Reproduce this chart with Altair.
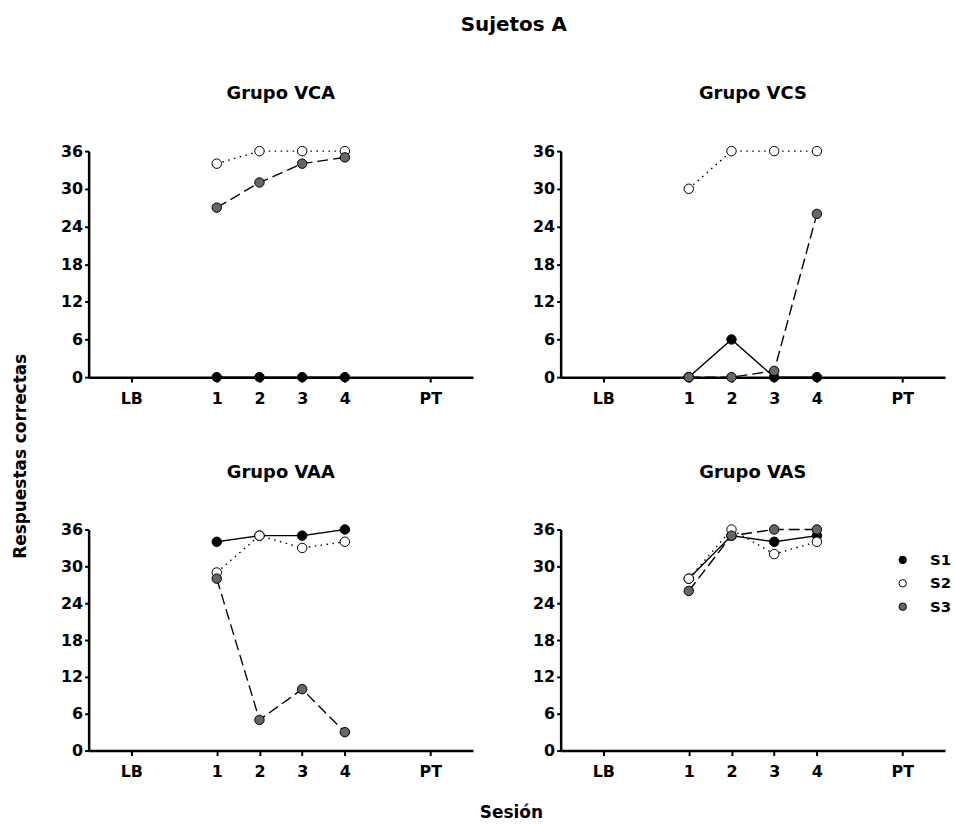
import altair as alt
import pandas as pd

sessions = [1, 2, 3, 4]
subjects = ["S1", "S2", "S3"]
tick_values = [-1, 1, 2, 3, 4, 6]
tick_labels = ["LB", "1", "2", "3", "4", "PT"]
y_ticks = [0, 6, 12, 18, 24, 30, 36]

vca_s1 = [0, 0, 0, 0]
vca_s2 = [34, 36, 36, 36]
vca_s3 = [27, 31, 34, 35]

vcs_s1 = [0, 6, 0, 0]
vcs_s2 = [30, 36, 36, 36]
vcs_s3 = [0, 0, 1, 26]

vaa_s1 = [34, 35, 35, 36]
vaa_s2 = [29, 35, 33, 34]
vaa_s3 = [28, 5, 10, 3]

vas_s1 = [28, 35, 34, 35]
vas_s2 = [28, 36, 32, 34]
vas_s3 = [26, 35, 36, 36]

FONT = "DejaVu Sans"

label_expr = "datum.label"
for v, l in reversed(list(zip(tick_values, tick_labels))):
    label_expr = f"datum.value == {v} ? '{l}' : " + label_expr


def make_df(s1, s2, s3):
    rows = []
    for subj, vals in zip(subjects, [s1, s2, s3]):
        for s, v in zip(sessions, vals):
            rows.append({"session": s, "value": v, "subject": subj})
    return pd.DataFrame(rows)


def panel(name, s1, s2, s3, width, height, ytitle=None, xtitle=None, legend=False):
    df = make_df(s1, s2, s3)
    xaxis_kw = dict(values=tick_values, labelExpr=label_expr, title=None)
    if xtitle:
        xaxis_kw.update(title=xtitle[0], titleX=xtitle[1], titleY=xtitle[2],
                        titleBaseline="middle")
    yaxis_kw = dict(values=y_ticks, title=None)
    if ytitle:
        yaxis_kw.update(title=ytitle[0], titleX=ytitle[1], titleY=ytitle[2],
                        titleBaseline="middle")
    x = alt.X("session:Q", scale=alt.Scale(domain=[-2, 7], nice=False, zero=False),
              axis=alt.Axis(**xaxis_kw))
    y = alt.Y("value:Q", scale=alt.Scale(domain=[0, 36], nice=False),
              axis=alt.Axis(**yaxis_kw))
    lines = alt.Chart(df).mark_line(color="black", strokeWidth=1.4).encode(
        x=x, y=y, detail="subject:N",
        strokeDash=alt.StrokeDash("subject:N",
                                  scale=alt.Scale(domain=subjects,
                                                  range=[[1, 0], [1.5, 4.5], [11, 5]]),
                                  legend=None),
    )
    if legend:
        leg = alt.Legend(title=None, orient="none", legendX=336, legendY=23,
                         padding=0, symbolSize=55, symbolType="circle",
                         symbolStrokeColor="black", symbolStrokeWidth=1,
                         labelFontSize=15, labelFont=FONT, labelColor="black",
                         labelFontWeight="bold", labelOffset=20, rowPadding=7.5)
    else:
        leg = None
    points = alt.Chart(df).mark_point(filled=True, shape="circle", size=90,
                                      stroke="black", strokeWidth=1, opacity=1).encode(
        x=x, y=y,
        fill=alt.Fill("subject:N",
                      scale=alt.Scale(domain=subjects,
                                      range=["#000000", "#ffffff", "#666666"]),
                      legend=leg),
    )
    return alt.layer(lines, points).properties(
        width=width, height=height,
        title=alt.TitleParams(f"Grupo {name}", fontSize=18, font=FONT,
                              fontWeight="bold", frame="group", anchor="middle",
                              offset=40),
    )


W = 386
p1 = panel("VCA", vca_s1, vca_s2, vca_s3, W, 227,
           ytitle=("Respuestas correctas", -68, 306))
p2 = panel("VCS", vcs_s1, vcs_s2, vcs_s3, W, 227)
p3 = panel("VAA", vaa_s1, vaa_s2, vaa_s3, W, 222,
           xtitle=("Sesión", 424, 62))
p4 = panel("VAS", vas_s1, vas_s2, vas_s3, W, 222, legend=True)

chart = alt.ConcatChart(
    concat=[p1, p2, p3, p4], columns=2,
    spacing=alt.RowColnumber(row=153, column=88), bounds="flush",
    title=alt.TitleParams("Sujetos A", fontSize=20, font=FONT, fontWeight="bold",
                          anchor="middle", offset=50, dx=32),
    padding={"left": 11, "top": 13, "right": 2, "bottom": 5},
).resolve_legend(fill="independent").configure_view(
    stroke="transparent"
).configure_axis(
    domainColor="black", domainWidth=2.5, tickColor="black", tickWidth=2,
    tickSize=5, labelFont=FONT, labelFontSize=16, labelFontWeight="bold",
    labelColor="black", labelPadding=3, grid=False, titleFont=FONT,
    titleFontSize=17, titleFontWeight="bold", titleColor="black",
).configure_axisX(labelPadding=8).configure_axisY(tickSize=4, labelPadding=2)

chart.save("out.html", embed_options={"renderer": "svg", "actions": False})
